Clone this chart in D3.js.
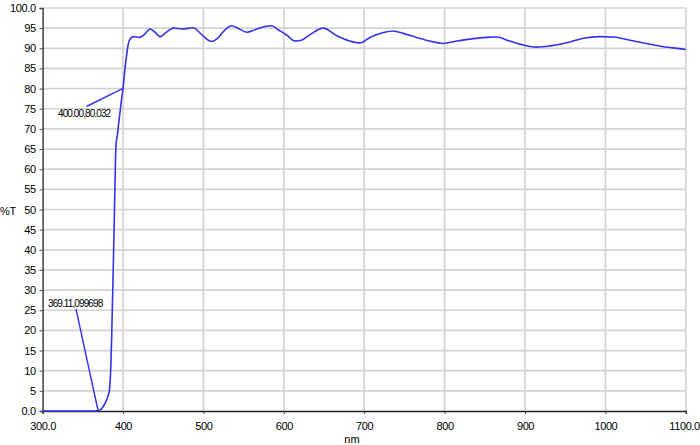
<!DOCTYPE html>
<html><head><meta charset="utf-8">
<script src="https://cdn.jsdelivr.net/npm/d3@7"></script>
<style>
html,body{margin:0;padding:0;background:#fff;overflow:hidden}
svg{display:block}
text{font-family:"Liberation Sans",Arial,sans-serif;fill:#000}
</style></head>
<body>
<svg id="c" width="700" height="445"></svg>
<script>
// Data
const wavelength = [300,320,340,360,365,369.11,372,375,378,380,383,385,386,387.5,388.8,390,391.3,393,395,398,400,401.5,402.5,404.6,406.5,408.7,412.8,421,427,433.6,439.8,446,454,462.6,473,487.5,495.8,504,510,516.5,527,535,543,554,564,576.6,585,593,603.6,614,622,632.6,649,666,682,695,707,724,736,748.6,765,786,798,815,836,852,864,881,898,914.6,931,952,972.5,993,1010,1030.6,1051,1072,1097,1100];
const transmittance = [0,0,0,0,0,0.1,0.3,1,2,3,5,12,19,32,44,56,66,68.5,72,77,80.03,83,85,88.5,91,92.2,92.9,92.7,93.5,94.8,94.0,92.9,94.0,95.0,94.8,95.1,93.8,92.3,91.7,92.3,94.6,95.6,95.0,94.0,94.6,95.4,95.6,94.6,93.3,91.8,92.0,93.4,95.0,93.1,91.8,91.3,92.7,93.9,94.3,93.7,92.7,91.6,91.2,91.8,92.4,92.7,92.8,91.8,90.8,90.3,90.6,91.4,92.5,92.9,92.8,92.0,91.2,90.4,89.8,89.7];
const xTicks = [300,400,500,600,700,800,900,1000,1100];
const xTickLabels = ["300.0","400","500","600","700","800","900","1000","1100.0"];
const yTicks = [0,5,10,15,20,25,30,35,40,45,50,55,60,65,70,75,80,85,90,95,100];
const yTickLabels = ["0.0","5","10","15","20","25","30","35","40","45","50","55","60","65","70","75","80","85","90","95","100.0"];
const annotations = [
  {label:"400.00,80.032", x:400, y:80.032, tx:58, ty:113, lx:86.5, ly:106.5},
  {label:"369.11,099698", x:369.11, y:0, tx:48, ty:303, lx:76, ly:309}
];
const xTitle = "nm", yTitle = "%T";

const svg = d3.select("#c");
const x = d3.scaleLinear().domain([300,1100]).range([42.6,685.8]);
const y = d3.scaleLinear().domain([0,100]).range([411,8]);

// grid
const g = svg.append("g");
g.selectAll("line.h").data(yTicks.filter(d=>d>0)).join("line")
  .attr("x1",x(300)).attr("x2",x(1100)).attr("y1",d=>y(d)).attr("y2",d=>y(d))
  .attr("stroke","#d3d3d3").attr("stroke-width",1.7);
g.selectAll("line.v").data(xTicks.filter(d=>d>300)).join("line")
  .attr("x1",d=>x(d)).attr("x2",d=>x(d)).attr("y1",y(0)).attr("y2",y(100))
  .attr("stroke","#d3d3d3").attr("stroke-width",1.7);

// axes
const yAxis = d3.axisLeft(y).tickValues(yTicks).tickFormat((d,i)=>yTickLabels[i]).tickSize(3).tickPadding(4);
const xAxis = d3.axisBottom(x).tickValues(xTicks).tickFormat((d,i)=>xTickLabels[i]).tickSize(3).tickPadding(8);
const ya = svg.append("g").attr("transform",`translate(${x(300)},0)`).call(yAxis);
const xa = svg.append("g").attr("transform",`translate(0,${y(0)})`).call(xAxis);
[ya,xa].forEach(a=>{
  a.select(".domain").attr("stroke","#222").attr("stroke-width",1.3);
  a.selectAll(".tick line").attr("stroke","#444");
  a.selectAll(".tick text").attr("font-size",11).attr("letter-spacing","-0.4px").attr("fill","#111")
   .attr("font-family","'Liberation Sans',Arial,sans-serif");
});
// keep the last x label inside the picture
xa.selectAll(".tick text").filter(d=>d===1100).attr("text-anchor","end").attr("dx",13.5);

// titles
svg.append("text").attr("x",0).attr("y",215).attr("font-size",11).attr("letter-spacing","-0.3px").text(yTitle);
svg.append("text").attr("x",352).attr("y",443).attr("font-size",11).attr("text-anchor","middle").text(xTitle);

// curve
const pts = wavelength.map((w,i)=>[w,transmittance[i]]);
svg.append("path").datum(pts)
  .attr("d",d3.line().x(d=>x(d[0])).y(d=>y(d[1])).curve(d3.curveMonotoneX))
  .attr("fill","none").attr("stroke","#3333f0").attr("stroke-width",1.6);

// annotations
annotations.forEach(a=>{
  svg.append("line").attr("x1",a.lx).attr("y1",a.ly).attr("x2",x(a.x)).attr("y2",y(a.y))
    .attr("stroke","#3333f0").attr("stroke-width",1.4);
  svg.append("text").attr("x",a.tx).attr("y",a.ty+3.5).attr("font-size",10)
    .attr("letter-spacing","-0.9px").text(a.label);
});
</script>
</body></html>
